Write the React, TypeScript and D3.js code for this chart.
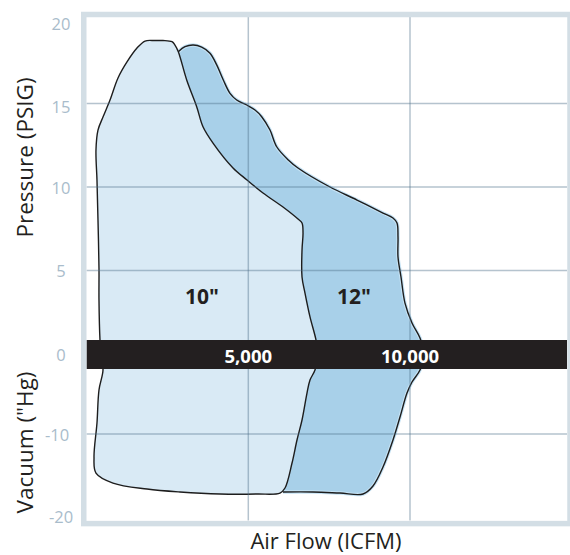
import React from 'react';
import * as d3 from 'd3';

const FLOW_TICKS = [5000, 10000];
const FLOW_TICK_LABELS = ['5,000', '10,000'];
const PRESSURE_TICKS = [20, 15, 10, 5];
const VACUUM_TICKS = [0, -10, -20];
const GRID_VALUES = [15, 10, 5, -10];
const SERIES_NAMES = ['10"', '12"'];
const LABEL_FLOWS = [3570, 8270];
const LABEL_VALUE = 3.5;

// [air flow (ICFM), pressure (PSIG, positive) / vacuum ("Hg, negative)]
const TEN_INCH: [number, number][] = [
  [507, -2.0], [445, 0], [414, 0.84], [383, 3.23], [383, 5.15], [352, 8.02], [321, 10.42], [290, 12.22],
  [352, 13.41], [507, 14.19], [724, 15.21], [971, 16.53], [1249, 17.49], [1558, 18.32], [1807, 18.74],
  [2115, 18.77], [2362, 18.77], [2641, 18.7], [2733, 18.5], [2836, 18.1], [3095, 16.41], [3404, 14.81],
  [3599, 13.61], [3909, 12.63], [4527, 11.14], [4960, 10.42], [5455, 9.64], [6073, 8.8], [6537, 8.08],
  [6661, 7.84], [6692, 7.25], [6661, 6.23], [6661, 4.61], [6753, 3.65], [6908, 2.22], [7093, 0.84],
  [7155, 0], [7062, -2.0], [6908, -3.25], [6815, -4.88], [6661, -8.25], [6506, -10.75], [6352, -13.63],
  [6135, -16.75], [5980, -17.38], [5269, -17.5], [4125, -17.5], [2888, -17.25], [1868, -16.88],
  [816, -16.13], [290, -14.88], [229, -12.88], [321, -8.63], [383, -4.5],
];

const TWELVE_INCH: [number, number][] = [
  [2835, 18.1], [3043, 18.4], [3299, 18.5], [3559, 18.37], [3816, 18.01], [4023, 17.31], [4227, 16.41],
  [4434, 15.61], [4641, 15.21], [4950, 14.91], [5207, 14.61], [5414, 14.21], [5671, 13.41], [5878, 12.41],
  [6237, 11.62], [6537, 11.14], [7526, 10.0], [8361, 9.22], [9165, 8.44], [9474, 8.14], [9598, 7.84],
  [9629, 7.01], [9629, 5.81], [9722, 4.61], [9845, 3.05], [10062, 1.86], [10309, 0.96], [10433, 0],
  [10309, -2.0], [10062, -3.5], [9907, -4.88], [9691, -7.88], [9474, -10.75], [9165, -14.13],
  [8856, -16.5], [8547, -17.5], [7835, -17.38], [6999, -17.25], [6073, -17.25],
  [5053, -14.5], [4125, 3.23], [3507, 12.22], [2888, 17.0],
];
const TWELVE_VISIBLE_COUNT = 39;

export default function App() {
  const W = 570;
  const H = 555;
  const inner = { left: 86.5, top: 17, right: 567, bottom: 520.5 };
  const x = d3.scaleLinear().domain([0, 15000]).range([86.6, 571.7]);
  const y = d3.scaleLinear().domain([-20, 0, 20]).range([514, 354, 20]);

  const closed = d3
    .line<[number, number]>()
    .x((d) => x(d[0]))
    .y((d) => y(d[1]))
    .curve(d3.curveCatmullRomClosed.alpha(0.5));
  const open = d3
    .line<[number, number]>()
    .x((d) => x(d[0]))
    .y((d) => y(d[1]))
    .curve(d3.curveCatmullRom.alpha(0.5));

  const twelveVisible = TWELVE_INCH.slice(0, TWELVE_VISIBLE_COUNT);
  const font = "'Open Sans', 'Noto Sans', sans-serif";
  const bandY = y(0);

  return (
    <div style={{ position: 'absolute', left: 0, top: 0 }}>
      <svg width={W} height={H} style={{ display: 'block' }}>
        <rect x={0} y={0} width={W} height={H} fill="#ffffff" />
        {/* 12" envelope */}
        <path d={closed(TWELVE_INCH) || ''} fill="#a8d0e9" stroke="none" />
        <path d={open(twelveVisible) || ''} fill="none" stroke="#c6e3f5" strokeWidth={3.5} />
        <path d={open(twelveVisible) || ''} fill="none" stroke="#1d1d1d" strokeWidth={1.4} />
        {/* 10" envelope */}
        <path d={closed(TEN_INCH) || ''} fill="#d9eaf5" stroke="#1d1d1d" strokeWidth={1.4} />

        {/* grid */}
        {GRID_VALUES.map((v) => (
          <line key={'h' + v} x1={inner.left} x2={inner.right} y1={y(v)} y2={y(v)}
            stroke="#4f708a" strokeOpacity={0.42} strokeWidth={1.5} />
        ))}
        {FLOW_TICKS.map((f) => (
          <line key={'v' + f} x1={x(f)} x2={x(f)} y1={inner.top} y2={inner.bottom}
            stroke="#4f708a" strokeOpacity={0.42} strokeWidth={1.5} />
        ))}

        {/* zero band */}
        <rect x={inner.left} y={bandY - 14} width={inner.right - inner.left} height={29} fill="#231f20" />
        {FLOW_TICKS.map((f, i) => (
          <text key={'fl' + f} x={x(f)} y={bandY + 1} textAnchor="middle" dominantBaseline="central"
            fontFamily={font} fontWeight={700} fontSize={18.5} fill="#ffffff">
            {FLOW_TICK_LABELS[i]}
          </text>
        ))}

        {/* frame */}
        <rect x={83.75} y={14.5} width={570 - 83.75} height={523.6 - 14.5}
          fill="none" stroke="#d3dee5" strokeWidth={5.5} />

        {/* series labels */}
        {SERIES_NAMES.map((s, i) => (
          <text key={s} x={x(LABEL_FLOWS[i])} y={y(LABEL_VALUE)} textAnchor="middle" dominantBaseline="central"
            fontFamily={font} fontWeight={700} fontSize={21} fill="#231f20">
            {s}
          </text>
        ))}

        {/* tick labels */}
        {PRESSURE_TICKS.map((v) => (
          <text key={'p' + v} x={61} y={y(v) + (v >= 15 ? 3 : 0)} textAnchor="middle" dominantBaseline="central"
            fontFamily={font} fontSize={16.5} fill="#a9bccb">
            {v}
          </text>
        ))}
        {VACUUM_TICKS.map((v) => (
          <text key={'vac' + v} x={v === -10 ? 57 : 61} y={y(v) + (v === -20 ? 2 : 0)} textAnchor="middle"
            dominantBaseline="central" fontFamily={font} fontSize={16.5} fill="#a9bccb">
            {v}
          </text>
        ))}

        {/* axis titles */}
        <text transform={`translate(33,157.5) rotate(-90)`} textAnchor="middle"
          fontFamily={font} fontSize={22.5} fill="#231f20">
          Pressure (PSIG)
        </text>
        <text transform={`translate(33,442.5) rotate(-90)`} textAnchor="middle"
          fontFamily={font} fontSize={22.5} fill="#231f20">
          Vacuum ("Hg)
        </text>
        <text x={326} y={549} textAnchor="middle" fontFamily={font} fontSize={22} fill="#231f20">
          Air Flow (ICFM)
        </text>
      </svg>
    </div>
  );
}
